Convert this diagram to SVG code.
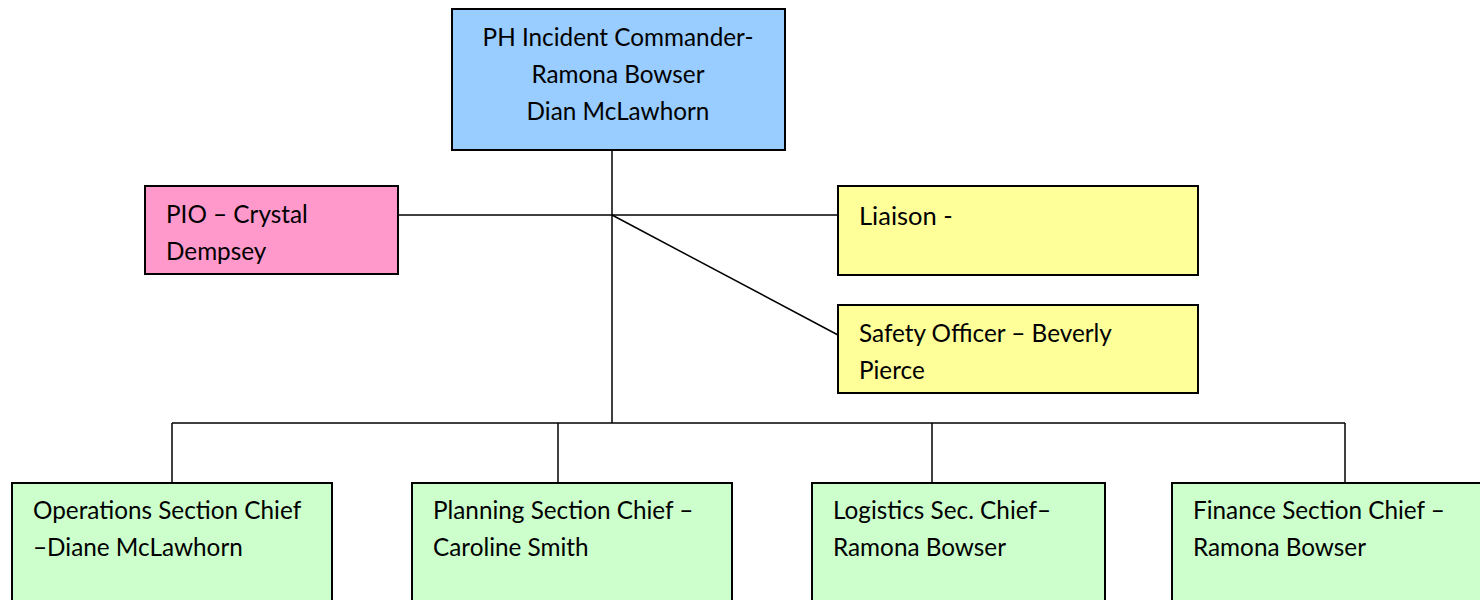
<svg xmlns="http://www.w3.org/2000/svg" width="1480" height="600" viewBox="0 0 1480 600">
<style>
.box{stroke:#000;stroke-width:2}
.blue{fill:#99CCFF}.pink{fill:#FF99CC}.yellow{fill:#FFFF99}.green{fill:#CCFFCC}
text{font-family:Lato,"Open Sans","Liberation Sans",sans-serif;font-size:24.3px;fill:#000}
.c{text-anchor:middle}
.conn line{stroke:#000;stroke-width:1.5}
</style>
<rect width="1480" height="600" fill="#fff"/>
<g class="conn" id="connectors">
<line x1="612" y1="150" x2="612" y2="423"/>
<line x1="398" y1="215" x2="838" y2="215"/>
<line x1="612" y1="215" x2="838" y2="335"/>
<line x1="172" y1="423" x2="1345" y2="423"/>
<line x1="172" y1="423" x2="172" y2="483"/>
<line x1="558" y1="423" x2="558" y2="483"/>
<line x1="932" y1="423" x2="932" y2="483"/>
<line x1="1345" y1="423" x2="1345" y2="483"/>
</g>
<g id="commander">
<rect class="box blue" x="452" y="9" width="333" height="141"/>
<text class="c" x="618" y="46">PH Incident Commander-</text>
<text class="c" x="618" y="83">Ramona Bowser</text>
<text class="c" x="618" y="120">Dian McLawhorn</text>
</g>
<g id="pio">
<rect class="box pink" x="145" y="186" width="253" height="88"/>
<text x="166" y="223">PIO – Crystal</text>
<text x="166" y="260">Dempsey</text>
</g>
<g id="liaison">
<rect class="box yellow" x="838" y="186" width="360" height="89"/>
<text x="859" y="225" style="font-size:25.5px">Liaison -</text>
</g>
<g id="safety">
<rect class="box yellow" x="838" y="305" width="360" height="88"/>
<text x="859" y="342">Safety Officer – Beverly</text>
<text x="859" y="379">Pierce</text>
</g>
<g id="operations">
<rect class="box green" x="12" y="483" width="320" height="130"/>
<text x="33" y="519">Operations Section Chief</text>
<text x="33" y="556">–Diane McLawhorn</text>
</g>
<g id="planning">
<rect class="box green" x="412" y="483" width="320" height="130"/>
<text x="433" y="519">Planning Section Chief –</text>
<text x="433" y="556">Caroline Smith</text>
</g>
<g id="logistics">
<rect class="box green" x="812" y="483" width="293" height="130"/>
<text x="833" y="519">Logistics Sec. Chief–</text>
<text x="833" y="556">Ramona Bowser</text>
</g>
<g id="finance">
<rect class="box green" x="1172" y="483" width="330" height="130"/>
<text x="1193" y="519">Finance Section Chief –</text>
<text x="1193" y="556">Ramona Bowser</text>
</g>
</svg>
